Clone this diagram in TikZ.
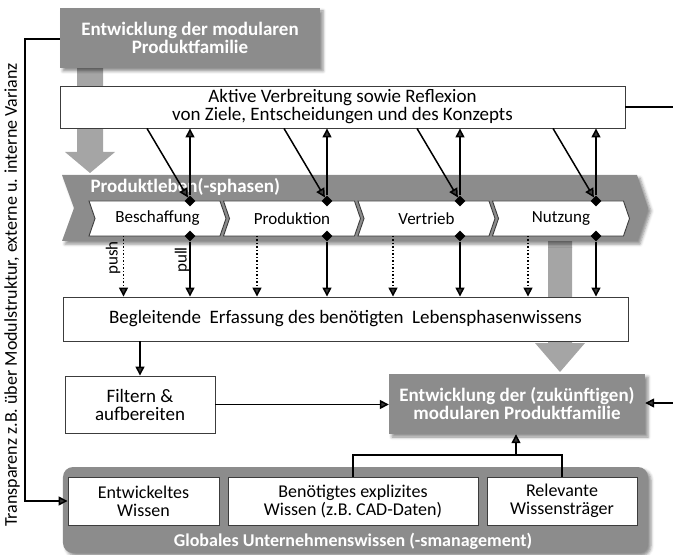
\documentclass[tikz,border=0pt]{standalone}
\usepackage{fontspec}
\setmainfont{Carlito}
\usetikzlibrary{arrows.meta,shapes.geometric,shapes.symbols,shadows.blur,calc}
\definecolor{boxgray}{RGB}{140,140,140}
\definecolor{arrgray}{RGB}{165,165,165}
\definecolor{edgegray}{RGB}{60,60,60}
\begin{document}
\begin{tikzpicture}[x=1bp,y=-1bp,
  font=\fontsize{19bp}{18bp}\selectfont,
  shad/.style={blur shadow={shadow xshift=3bp,shadow yshift=-3bp,shadow blur radius=3bp,shadow opacity=45}},
  wbox/.style={draw=edgegray, line width=0.9bp, fill=white, inner sep=2bp, align=center},
  gbox/.style={fill=boxgray, text=white, font=\fontsize{19bp}{18bp}\selectfont\bfseries, align=center, inner sep=2bp, shad},
  inbox/.style={wbox, minimum height=48bp, font=\fontsize{18bp}{18bp}\selectfont},
  phase/.style={signal, signal from=west, signal to=east, signal pointer angle=142, draw=edgegray, line width=0.9bp, fill=white, minimum width=137bp, minimum height=35bp, inner sep=0pt, font=\fontsize{17bp}{17bp}\selectfont},
  arr/.style={line width=1.5bp, -{Triangle[length=9bp,width=9bp]}},
  dia/.style={diamond, fill=black, inner sep=0pt, minimum size=11bp},
  bigarrow/.style={fill=arrgray},
  smalllbl/.style={rotate=90, font=\fontsize{17bp}{17bp}\selectfont}
]
\useasboundingbox (0,0) rectangle (673,555);

% big gray arrows
\fill[bigarrow] (77,68) -- (103,68) -- (103,152) -- (115,152) -- (90,173) -- (65,152) -- (77,152) -- cycle;
\fill[bigarrow] (548,240) -- (572,240) -- (572,343) -- (585,343) -- (560,372) -- (535,343) -- (548,343) -- cycle;

% top box
\node[gbox, minimum width=260bp, minimum height=60bp] (top) at (190,38) {Entwicklung der modularen\\Produktfamilie};

% active box
\node[wbox, minimum width=565bp, minimum height=42bp] (active) at (342.5,107) {Aktive Verbreitung sowie Reflexion\\von Ziele, Entscheidungen und des Konzepts};

% band
\fill[boxgray, shad] (62,175) -- (637,175) -- (648,208) -- (637,241) -- (62,241) -- (74,208) -- cycle;
\node[anchor=west, text=white, font=\fontsize{19bp}{18bp}\selectfont\bfseries] (bandlbl) at (87,187) {Produktleben(-sphasen)};

% phases
\node[phase] (ph1) at (157.5,218.5) {Beschaffung};
\node[phase] (ph2) at (292,218.5) {Produktion};
\node[phase] (ph3) at (426.5,218.5) {Vertrieb};
\node[phase] (ph4) at (561,218.5) {Nutzung};

% diamonds
\node[dia] (dt1) at (190,201) {};
\node[dia] (dt2) at (327,201) {};
\node[dia] (dt3) at (460,201) {};
\node[dia] (dt4) at (596,201) {};
\node[dia] (db1) at (190,236) {};
\node[dia] (db2) at (327,236) {};
\node[dia] (db3) at (460,236) {};
\node[dia] (db4) at (596,236) {};

\coordinate (p1) at (123.5,236);
\coordinate (p2) at (257,236);
\coordinate (p3) at (393,236);
\coordinate (p4) at (528,236);

% begleitende box
\node[wbox, minimum width=565bp, minimum height=44bp] (beg) at (345.5,319) {Begleitende\ \ Erfassung des benötigten\ \ Lebensphasenwissens};

% filtern
\node[wbox, minimum width=150bp, minimum height=57bp] (filt) at (140,404.5) {Filtern \&\\aufbereiten};

% entwicklung 2
\node[gbox, minimum width=256bp, minimum height=60bp] (ent2) at (517,404) {Entwicklung der (zukünftigen)\\modularen Produktfamilie};

% global
\node[gbox, rounded corners=10bp, minimum width=585bp, minimum height=86bp] (glob) at (355.5,510) {};
\node[text=white, font=\fontsize{18bp}{18bp}\selectfont\bfseries] (globlbl) at (353,541) {Globales Unternehmenswissen (-smanagement)};
\node[inbox, minimum width=151bp] (ew) at (143.5,501) {Entwickeltes\\Wissen};
\node[inbox, minimum width=250bp] (bw) at (353,501) {Benötigtes explizites\\Wissen (z.B. CAD-Daten)};
\node[inbox, minimum width=150bp] (rw) at (562,501) {Relevante\\Wissensträger};

% connectors: active <-> phases
\foreach \i in {1,2,3,4}{
  \draw[arr] ($(dt\i |- active.south)+(-43,0)$) -- (dt\i);
  \draw[arr] (dt\i) -- (dt\i |- active.south);
  \draw[arr] (db\i) -- (db\i |- beg.north);
  \draw[arr, dotted] (p\i) -- (p\i |- beg.north);
}

\node[smalllbl] (pushlbl) at (113,258) {push};
\node[smalllbl] (pulllbl) at (182,260) {pull};

% begleitende -> filtern
\draw[arr] (beg.south -| filt.north) -- (filt.north);
% filtern -> ent2
\draw[arr] (filt.east) -- (filt.east -| ent2.west);
% right side
\coordinate (rin) at (673,403);
\draw[arr] (rin) -- (rin -| ent2.east);
\coordinate (rout) at (673,107);
\draw[line width=1.5bp] (active.east) -- (rout);

% tree
\coordinate (jn) at (516,455);
\draw[line width=1.5bp] (bw.north) |- (jn) -| (rw.north);
\draw[arr] (jn) -- (jn |- ent2.south);

% left long line
\coordinate (lc) at (25,39);
\draw[arr] (top.west |- lc) -- (lc) -- (lc |- ew.west) -- (ew.west);
\node[rotate=90, font=\fontsize{18bp}{18bp}\selectfont] (translbl) at (12,295) {Transparenz z.B. über Modulstruktur, externe u. interne Varianz};

\end{tikzpicture}
\end{document}
